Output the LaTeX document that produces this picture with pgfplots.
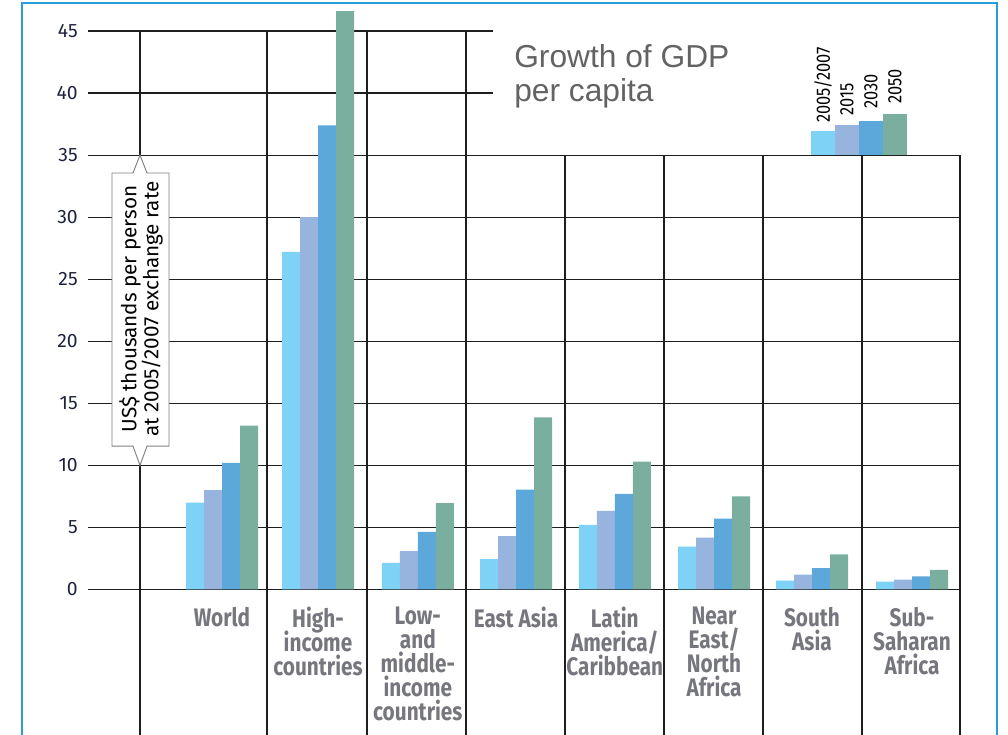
\documentclass[border=0pt]{standalone}
\usepackage{fontspec}
\setmainfont{Fira Sans}
\newfontfamily\catfont[FakeStretch=0.82]{Fira Sans}
\newfontfamily\yrfont[FakeStretch=0.85]{Fira Sans}
\newfontfamily\titlefont{Liberation Sans}
\newcommand\catf{\catfont\bfseries\fontsize{19}{18}\selectfont\lineskiplimit=-30pt\relax}
\usepackage{pgfplots}
\usepackage{pgfplotstable}
\pgfplotsset{compat=1.18}
\definecolor{cA}{RGB}{125,210,245}
\definecolor{cB}{RGB}{150,180,222}
\definecolor{cC}{RGB}{92,168,218}
\definecolor{cD}{RGB}{122,174,158}
\definecolor{catgrey}{RGB}{118,118,126}
\definecolor{frameblue}{RGB}{40,160,215}
\definecolor{tickc}{RGB}{30,35,60}
\definecolor{titlegrey}{RGB}{99,99,99}
\definecolor{gridc}{RGB}{30,30,30}

\pgfplotstableread{
x     a     b     c     d
222   7.0   8.0   10.2  13.2
318   27.2  30.0  37.4  46.6
417.8 2.15  3.1   4.64  6.95
516   2.44  4.31  8.05  13.86
614.8 5.2   6.33  7.7   10.3
714   3.46  4.17  5.72  7.5
812   0.71  1.2   1.73  2.83
912   0.64  0.8   1.05  1.59
}\gdpdata

\begin{document}
\begin{tikzpicture}
\begin{axis}[
  name=ax,
  scale only axis,
  width=756pt, height=551.25pt,
  xmin=0, xmax=1008,
  ymin=-11.724, ymax=47.502,
  axis line style={draw=none},
  tick style={draw=none},
  xtick pos=bottom, ytick pos=left,
  clip=false,
  major tick length=0pt,
  /pgf/number format/assume math mode=true,
  ytick={0,5,...,45},
  yticklabel style={font=\fontsize{14.5}{14.5}\selectfont, text=tickc, anchor=east, inner sep=0pt, xshift=58.5pt},
  xtick={222,318,417.8,516,614.8,714,812,912},
  xticklabels={World,{High-\\income\\countries},{Low-\\and\\middle-\\income\\countries},East Asia,{Latin\\America/\\Caribbean},{Near\\East/\\North\\Africa},{South\\Asia},{Sub-\\Saharan\\Africa}},
  xticklabel style={font=\catf, text=catgrey, anchor=north, align=center, inner sep=0pt, yshift=96pt},
]
% horizontal grid lines
\draw[gridc, line width=0.9pt] (axis cs:88,45) -- (axis cs:493,45);
\draw[gridc, line width=0.9pt] (axis cs:88,40) -- (axis cs:493,40);
\draw[gridc, line width=0.9pt] (axis cs:88,35) -- (axis cs:960,35);
\draw[gridc, line width=0.9pt] (axis cs:88,30) -- (axis cs:960,30);
\draw[gridc, line width=0.9pt] (axis cs:88,25) -- (axis cs:960,25);
\draw[gridc, line width=0.9pt] (axis cs:88,20) -- (axis cs:960,20);
\draw[gridc, line width=0.9pt] (axis cs:88,15) -- (axis cs:960,15);
\draw[gridc, line width=0.9pt] (axis cs:88,10) -- (axis cs:960,10);
\draw[gridc, line width=0.9pt] (axis cs:88,5) -- (axis cs:960,5);
\draw[gridc, line width=0.9pt] (axis cs:88,0) -- (axis cs:960,0);
% vertical lines
\draw[gridc, line width=0.9pt] (axis cs:140,45) -- (axis cs:140,-11.724);
\draw[gridc, line width=0.9pt] (axis cs:267,45) -- (axis cs:267,-11.724);
\draw[gridc, line width=0.9pt] (axis cs:367,45) -- (axis cs:367,-11.724);
\draw[gridc, line width=0.9pt] (axis cs:466,45) -- (axis cs:466,-11.724);
\draw[gridc, line width=0.9pt] (axis cs:565,35) -- (axis cs:565,-11.724);
\draw[gridc, line width=0.9pt] (axis cs:664,35) -- (axis cs:664,-11.724);
\draw[gridc, line width=0.9pt] (axis cs:763,35) -- (axis cs:763,-11.724);
\draw[gridc, line width=0.9pt] (axis cs:862,35) -- (axis cs:862,-11.724);
\draw[gridc, line width=0.9pt] (axis cs:960,35) -- (axis cs:960,-11.724);
% bars
\addplot[ybar, bar width=18, bar shift=-27, fill=cA, draw=none] table[x=x,y=a]{\gdpdata};
\addplot[ybar, bar width=18, bar shift=-9, fill=cB, draw=none] table[x=x,y=b]{\gdpdata};
\addplot[ybar, bar width=18, bar shift=9, fill=cC, draw=none] table[x=x,y=c]{\gdpdata};
\addplot[ybar, bar width=18, bar shift=27, fill=cD, draw=none] table[x=x,y=d]{\gdpdata};
% legend swatches
\fill[cA] (axis cs:811,35) rectangle (axis cs:835,36.93);
\fill[cB] (axis cs:835,35) rectangle (axis cs:859,37.42);
\fill[cC] (axis cs:859,35) rectangle (axis cs:883,37.74);
\fill[cD] (axis cs:883,35) rectangle (axis cs:907,38.30);
\node[rotate=90, anchor=west, inner sep=0pt, font=\yrfont\fontsize{14.5}{14.5}\selectfont] at (axis cs:823,37.6) {2005/2007};
\node[rotate=90, anchor=west, inner sep=0pt, font=\yrfont\fontsize{14.5}{14.5}\selectfont] at (axis cs:847,38.2) {2015};
\node[rotate=90, anchor=west, inner sep=0pt, font=\yrfont\fontsize{14.5}{14.5}\selectfont] at (axis cs:871,38.7) {2030};
\node[rotate=90, anchor=west, inner sep=0pt, font=\yrfont\fontsize{14.5}{14.5}\selectfont] at (axis cs:895,39.1) {2050};
% title
\node[anchor=north west, align=left, inner sep=0pt, text=titlegrey, font=\titlefont\fontsize{23.8}{25.5}\selectfont] at (axis cs:514,43.96) {Growth of GDP\\per capita};
% y label callout
\filldraw[fill=white, draw=black!50, line width=0.7pt] (axis cs:112,33.56) -- (axis cs:133,33.56) -- (axis cs:140,35) -- (axis cs:147,33.56) -- (axis cs:169,33.56) -- (axis cs:169,11.56) -- (axis cs:147,11.56) -- (axis cs:140,10) -- (axis cs:133,11.56) -- (axis cs:112,11.56) -- cycle;
\node[rotate=90, align=center, inner sep=0pt, font=\fontsize{15.5}{16.5}\selectfont] at (axis cs:141,22.6) {US\$ thousands per person\\at 2005/2007 exchange rate};
% frame
\draw[frameblue, line width=1.5pt] (axis cs:22,-11.724) -- (axis cs:22,47.26) -- (axis cs:997,47.26) -- (axis cs:997,-11.724);
\end{axis}
\pgfresetboundingbox
\path[use as bounding box] (ax.south west) rectangle (ax.north east);
\end{tikzpicture}
\end{document}
